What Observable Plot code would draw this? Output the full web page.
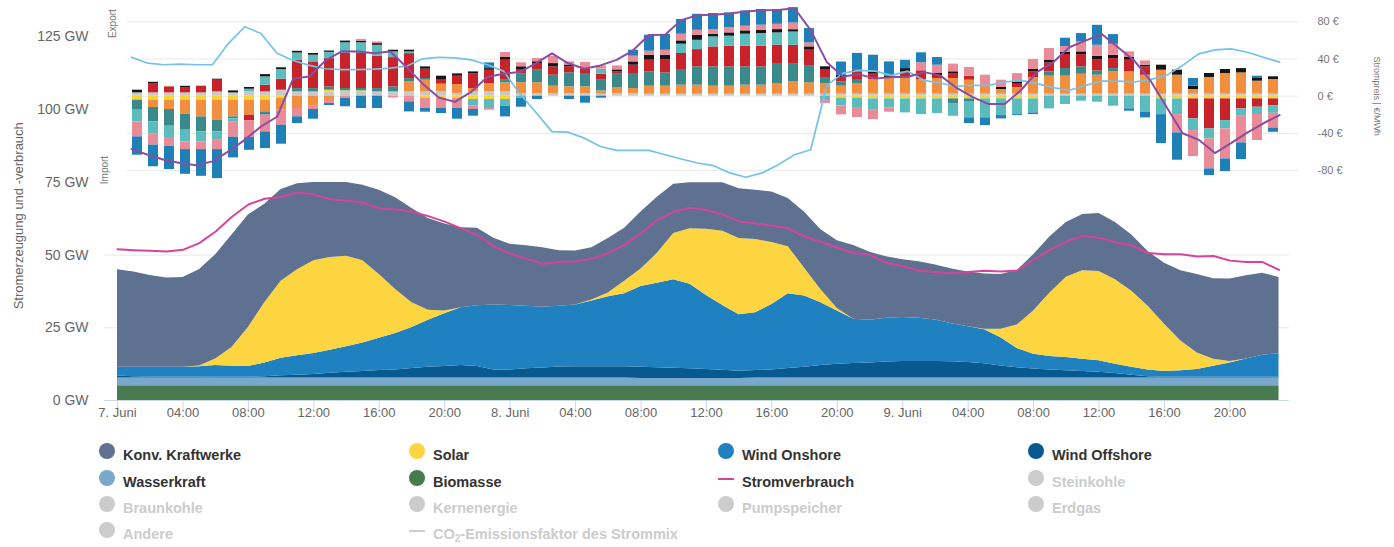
<!DOCTYPE html>
<html><head><meta charset="utf-8">
<script src="https://cdn.jsdelivr.net/npm/d3@7"></script>
<script src="https://cdn.jsdelivr.net/npm/@observablehq/plot@0.6"></script>
<style>
body{margin:0;background:#fff;font-family:"Liberation Sans",Arial,sans-serif;}
#wrap{position:relative;width:1394px;height:547px;overflow:hidden;background:#fff}
#wrap svg{position:absolute;left:0;top:0}
.item{position:absolute;font-weight:bold;font-size:14.5px;line-height:16px;color:#333;white-space:nowrap}
.item.off{color:#cccccc}
.dot{position:absolute;width:16px;height:16px;border-radius:50%}
.mk{position:absolute;width:16px;height:2px}
sub{font-size:10px;vertical-align:-3px;line-height:0}
</style></head>
<body><div id="wrap"></div>
<script>
// ---------- DATA ----------
const hours = d3.range(72);
const tickHours = [0,4,8,12,16,20,24,28,32,36,40,44,48,52,56,60,64,68];
const tickLabels = ["7. Juni","04:00","08:00","12:00","16:00","20:00","8. Juni","04:00","08:00","12:00","16:00","20:00","9. Juni","04:00","08:00","12:00","16:00","20:00"];

// Erzeugung (GW), stacked bottom -> top
const biomasse = [5.1,5.1,5.1,5.1,5.1,5.1,5.1,5.1,5.1,5.1,5.1,5.1,5.1,5.1,5.1,5.1,5.1,5.1,5.1,5.1,5.1,5.1,5.1,5.1,
 5.1,5.1,5.1,5.1,5.1,5.1,5.1,5.1,5.1,5.1,5.1,5.1,5.1,5.1,5.1,5.1,5.1,5.1,5.1,5.1,5.1,5.1,5.1,5.1,
 5.1,5.1,5.1,5.1,5.1,5.1,5.1,5.1,5.1,5.1,5.1,5.1,5.1,5.1,5.1,5.1,5.1,5.1,5.1,5.1,5.1,5.1,5.1,5.1];
const wasserkraft = [2.6,2.6,2.6,2.6,2.6,2.6,2.6,2.6,2.6,2.6,2.6,2.6,2.6,2.6,2.6,2.6,2.6,2.6,2.6,2.6,2.6,2.6,2.6,2.6,
 2.6,2.6,2.6,2.6,2.6,2.6,2.6,2.6,2.5,2.5,2.5,2.5,2.5,2.5,2.5,2.6,2.6,2.6,2.6,2.6,2.6,2.6,2.6,2.6,
 2.6,2.6,2.6,2.6,2.6,2.6,2.6,2.6,2.6,2.6,2.6,2.6,2.6,2.6,2.6,2.6,2.6,2.6,2.6,2.6,2.6,2.6,2.6,2.6];
const windOffshore = [0.7,0.5,0.4,0.4,0.4,0.4,0.3,0.3,0.3,0.5,0.8,1.0,1.2,1.7,2.0,2.3,2.6,2.8,3.3,3.7,4.0,4.3,4.0,2.8,
 2.8,3.2,3.5,3.8,3.9,3.9,3.9,3.9,3.8,3.7,3.5,3.3,3.1,2.8,2.5,2.6,2.8,3.3,3.7,4.3,4.8,5.0,5.2,5.5,
 5.7,5.7,5.7,5.6,5.4,4.9,4.2,3.6,3.1,2.8,2.5,2.3,2.0,1.6,1.0,0.5,0.3,0.3,0.3,0.3,0.3,0.3,0.3,0.3];
const windOnshore = [3.0,3.2,3.3,3.3,3.3,3.5,4.0,3.8,3.7,4.7,6.0,6.7,7.3,7.9,8.8,9.8,11.1,12.5,14.1,16.2,18.1,19.9,20.9,22.3,
 22.2,21.5,20.9,20.9,21.2,22.6,24.1,25.1,27.8,29.0,30.4,29.1,25.4,22.3,19.4,19.9,22.5,25.7,24.5,21.6,18.3,15.2,14.7,15.1,
 15.1,14.9,14.3,13.1,12.3,11.7,9.7,6.6,5.1,4.6,4.6,4.2,4.0,3.2,2.7,2.3,2.0,2.2,2.7,3.8,4.9,6.3,7.6,8.1];
const solar = [0,0,0,0,0,0.3,2.3,6.4,13.4,20.7,26.5,29.6,31.9,31.9,31.1,28.3,21.9,15.2,8.5,3.4,1.0,0,0,0,
 0,0,0,0,0,0.4,1.3,4.3,6.0,10.3,15.9,19.1,22.8,25.5,26.2,25.2,21.3,16.2,9.6,4.5,0.8,0,0,0,
 0,0,0,0,0,0.2,2.9,8.1,14.9,21.9,27.6,30.4,30.7,29.0,26.2,21.9,16.2,10.3,5.6,2.4,0.5,0,0,0];
const konv = [33.6,32.8,31.6,30.7,30.9,33.1,35.8,38.7,38.7,33.9,31.6,29.5,26.9,25.8,25.4,25.9,29.0,31.5,32.4,31.6,29.9,27.5,26.6,23.0,
 21.0,20.8,20.4,19.1,18.6,17.9,18.7,18.2,19.6,19.3,17.0,15.8,16.0,16.7,17.1,16.9,17.4,16.6,19.2,20.6,23.3,25.4,23.4,21.1,
 19.9,19.4,18.9,18.8,18.8,19.0,18.8,18.7,19.3,19.3,18.8,19.4,19.9,19.7,19.3,18.8,21.0,24.1,27.0,27.7,28.4,28.6,28.2,26.2];
const stromverbrauch = [52.0,51.7,51.5,51.2,51.8,54.1,58.1,63.2,67.4,69.4,70.0,71.5,70.8,69.2,68.7,68.0,66.0,65.7,64.9,63.4,61.5,59.2,56.9,53.0,
 50.5,48.7,47.0,47.6,47.8,48.7,50.7,53.5,57.5,62.1,64.9,66.3,65.5,64.0,61.5,60.9,60.1,59.2,56.4,54.6,52.6,50.7,50.1,47.3,
 46.2,44.6,44.2,43.8,44.2,44.6,44.4,44.7,48.4,51.8,54.6,56.6,56.0,54.4,53.3,50.7,50.3,50.3,49.5,49.7,48.1,47.6,47.6,44.9];

const genNames  = ["Biomasse","Wasserkraft","Wind Offshore","Wind Onshore","Solar","Konv. Kraftwerke"];
const genColors = ["#477a4e","#7aa7cc","#07598f","#2081c1","#fdd540","#5f7190"];

// Stromhandel (GW, + Export / - Import), stacked from zero outwards
const tradeNames  = ["grau","gelb","orange","dunkeltürkis","rot","türkis","schwarz","rosa","blau"];
const tradeColors = ["#c9c9c9","#f6d432","#f28f3f","#3a8a8c","#c8232a","#5bbcbd","#151515","#ea8b99","#1f80b8"];
const tGrau = [.33,.33,.33,.33,.33,.43,.33,.43,.43,.6,.43,.43,.43,.37,.37,.43,.43,.43,.43,.43,.27,.43,.43,.43,
 .27,.27,.27,.27,.27,.2,.27,.27,.2,.2,.2,.2,.2,.2,.2,.2,.2,.2,.2,.2,.2,.2,.2,.2,
 .2,.2,.2,.2,.2,.2,.2,.2,.2,.2,.2,.2,.2,.2,.2,.2,.2,.2,.2,.2,.2,.2,.2,.2];
const tGelb = [-.4,-.4,-.4,-.4,-.4,-.4,-.4,-.4,-.4,-.23,0,0,.17,.17,.17,0,0,0,-.23,-.23,-.23,-.33,-.33,-.33,
 0,0,0,0,0,0,0,0,0,0,0,0,0,0,0,0,0,0,0,0,-.2,-.2,-.27,-.27,
 -.27,-.27,-.27,-.27,-.27,-.27,-.27,-.27,-.27,0,0,0,0,0,0,0,-.27,-.27,-.27,-.27,-.27,-.27,-.27,-.27];
const tOrange = [0,-.73,-.93,-1.4,-1.67,-2.0,-1.67,-1.5,-1.17,-1.17,-1.23,-1.0,-.33,0,0,0,0,1.0,1.17,.77,.9,.33,.83,.9,
 1.07,1.07,.73,.67,.67,.33,.6,.5,.8,.8,.9,.9,.8,.8,.9,.9,1.07,1.23,1.13,1.07,.8,1.07,1.47,1.57,
 1.73,1.47,1.57,1.57,1.4,.8,.47,.67,1.67,1.8,1.8,2.0,1.9,2.23,2.23,1.9,2.4,1.9,.47,1.67,2.07,2.13,1.3,1.47];
const tDunkeltuerkis = [-1.0,-1.43,-1.67,-1.6,-1.5,-1.17,-.2,0,-.33,0,.33,.33,.33,.23,.23,.33,.5,.33,.17,0,0,0,0,.27,
 .9,1.27,1.1,1.4,1.33,1.07,1.33,1.5,1.43,1.33,1.57,1.83,1.93,1.93,1.83,1.83,2.0,1.83,1.67,.6,.43,.4,0,0,
 0,0,0,-.47,-.33,0,0,0,0,.43,.77,.73,.43,.33,0,0,0,0,0,0,0,0,0,0];
const tRot = [0,.93,.6,.53,.67,1.17,0,-.57,.67,1.1,2.83,2.67,2.83,3.5,3.5,3.23,2.93,2.5,.93,.4,.83,1.5,1.33,2.0,
 .43,.6,.83,.6,.43,.6,.23,.83,1.17,1.33,1.6,1.73,2.0,2.07,2.07,2.07,1.83,1.83,1.6,.8,.43,.77,.53,0,
 .5,.87,.23,.5,.4,0,0,.33,.57,.9,1.4,1.23,1.13,1.0,1.17,.83,0,0,-2.0,-3.0,-2.17,-1.0,-.83,-.67];
const tTuerkis = [-1.17,-1.23,-1.13,-1.17,-1.0,-.77,-.33,.27,.83,.97,.73,.67,.63,1.07,1.07,1.1,.57,.17,0,0,0,-.67,-.9,-.67,
 -.2,0,0,0,0,.5,0,0,0,0,.93,.93,1.0,1.0,1.2,1.27,1.23,1.33,0,-.33,-.77,-.93,-1.07,-.9,
 -1.4,-1.57,-1.47,-1.27,-1.57,-1.9,-1.67,-1.57,-1.4,-1.27,-.83,-.5,-.6,-1.0,-1.27,-1.6,-1.57,-1.57,-1.17,-1.0,-.83,-.73,-.73,-.77];
const tSchwarz = [.27,.13,0,.13,0,.1,.2,.17,.23,.17,.17,.17,.13,.17,.17,.17,.17,.17,.23,.4,.23,.17,.17,.27,
 .27,.23,.33,.17,0,0,.2,.33,.5,.43,.33,.5,.27,.33,.33,.33,.33,.23,.33,.27,.23,.17,.23,.23,
 .33,0,.27,.17,0,0,.2,.23,.23,.27,.23,.27,.33,.33,.27,.17,.5,.5,.33,.4,.4,.43,.27,.27];
const tRosa = [-1.5,-1.1,-.87,-.77,-.77,-1.0,-1.5,-1.67,-1.67,-1.5,-.83,-.33,-.4,-.23,.17,.17,-.17,-.57,-1.0,-1.0,-1.0,-.33,-.17,.5,
 .4,.33,.73,.33,.67,.33,.4,.57,.4,.5,.67,.5,.47,.53,.47,.5,.53,.67,.4,-.4,-.9,-1.0,-1.0,-.43,
 0,.8,.83,.77,.87,1.1,.73,.83,1.0,1.17,.57,1.0,1.1,1.1,.57,.43,0,-1.83,-2.6,-3.0,-3.0,-2.67,-2.6,-1.47];
const tBlau = [-1.83,-2.17,-2.33,-2.47,-2.67,-2.9,-2.07,-1.27,-1.67,-1.9,-.67,-.97,-.2,-.83,-1.23,-1.23,0,-1.0,-.37,-.5,-1.07,-.67,.57,-1.07,
 -.9,-.33,0,-.33,-.7,-.2,0,.6,1.6,1.6,1.47,1.6,1.6,1.47,1.53,1.57,1.47,1.53,1.43,0,1.33,1.67,1.67,1.43,
 .83,1.0,.77,0,-.57,-.77,-.33,-.1,-.17,0,.83,.83,2.0,.97,-.23,-.57,-2.9,-2.73,.77,-.67,-1.27,-1.67,.23,-.43];

// Preise (€/MWh)
const strompreis = [-56.9,-62.9,-68.3,-71.8,-74.3,-70.1,-59.4,-46.9,-32.7,-22.1,18.9,21.3,38.4,48.3,48.0,46.2,48.0,31.3,13.5,-1.4,-6.1,4.6,20.6,24.2,
 25.9,35.4,46.1,35.4,29.5,33.1,39.1,49.1,65.8,66.1,81.8,87.1,87.5,88.9,91.0,92.5,92.8,94.6,71.1,36.6,21.3,23.5,18.9,20.6,
 20.6,25.9,22.4,9.3,-0.7,-8.5,-8.5,6.4,25.9,36.6,52.6,59.7,66.8,52.6,38.4,17.1,-11.4,-39.8,-46.9,-61.1,-50.5,-39.1,-29.1,-20.3];
const hellblaueLinie = [41.9,35.5,33.8,34.5,33.8,33.8,56.9,74.7,67.5,46.2,38.4,33.1,29.5,28.5,28.5,29.1,30.2,32.3,40.2,41.9,41.3,39.1,33.8,27.0,
 3.2,-17.3,-38.1,-38.7,-45.1,-54.1,-58.3,-58.3,-58.3,-62.9,-67.5,-71.8,-74.7,-82.5,-87.1,-82.5,-73.6,-62.9,-57.6,11.7,24.8,27.7,26.9,22.4,
 26.9,17.1,14.2,10.7,11.7,11.7,15.3,17.1,13.5,9.3,6.4,11.7,16.3,16.3,15.3,17.8,22.4,33.1,45.5,49.8,50.9,47.3,41.9,36.6];
const priceTicks = [-80,-40,0,40,80];

// Legend
const legendItems = [
  ["Konv. Kraftwerke","#5f7190","dot",true],["Solar","#fdd540","dot",true],["Wind Onshore","#2081c1","dot",true],["Wind Offshore","#07598f","dot",true],
  ["Wasserkraft","#7aa7cc","dot",true],["Biomasse","#477a4e","dot",true],["Stromverbrauch","#d6449a","line",true],["Steinkohle","#cccccc","dot",false],
  ["Braunkohle","#cccccc","dot",false],["Kernenergie","#cccccc","dot",false],["Pumpspeicher","#cccccc","dot",false],["Erdgas","#cccccc","dot",false],
  ["Andere","#cccccc","dot",false],["CO<sub>2</sub>-Emissionsfaktor des Strommix","#cccccc","line",false]
];

// ---------- BUILD ----------
const font = "Liberation Sans, Arial, sans-serif";
const wrap = document.getElementById("wrap");
const genSeries = [biomasse, wasserkraft, windOffshore, windOnshore, solar, konv];
const genData = genSeries.flatMap((arr, k) => arr.map((v, h) => ({hour: h, typ: genNames[k], gw: v})));

const main = Plot.plot({
  width: 1394, height: 430,
  marginLeft: 104, marginRight: 105, marginTop: 36.5, marginBottom: 30,
  x: {domain: [-0.795, 71.64]},
  y: {domain: [0, 125]},
  color: {domain: genNames, range: genColors},
  style: {background: "transparent", fontFamily: font, color: "#666", overflow: "visible"},
  marks: [
    Plot.gridY([25, 50], {stroke: "#e6e6e6", strokeOpacity: 1}),
    Plot.areaY(genData, {x: "hour", y: "gw", fill: "typ", order: genNames}),
    Plot.lineY(stromverbrauch, {x: (d, i) => i, y: d => d, stroke: "#d6449a", strokeWidth: 2}),
    Plot.ruleY([0], {stroke: "#ccd6eb"}),
    Plot.axisX({ticks: tickHours, tickFormat: d => tickLabels[tickHours.indexOf(d)], tickSize: 10, tickPadding: -3,
      stroke: "#ccd6eb", strokeOpacity: 1, fill: "#666", fontSize: 13, label: null}),
    Plot.axisY({ticks: [0, 25, 50, 75, 100, 125], tickFormat: d => d + " GW", tickSize: 0, tickPadding: 16,
      fill: "#666", fontSize: 14, label: null}),
    Plot.text(["Stromerzeugung und -verbrauch"], {frameAnchor: "left", rotate: -90, textAnchor: "middle", dx: -86, dy: -3, fontSize: 13, fill: "#666"})
  ]
});
wrap.appendChild(main);

function pricePlot(marks) {
  return Plot.plot({
    width: 1394, height: 192,
    marginLeft: 127, marginRight: 96, marginTop: 2.7, marginBottom: 3.3,
    x: {domain: [-0.25, 72.17], axis: null},
    y: {domain: [-100, 100], axis: null},
    style: {background: "transparent", fontFamily: font, color: "#777", overflow: "visible"},
    marks
  });
}
wrap.appendChild(pricePlot([
  Plot.gridY(priceTicks, {stroke: "#e8e8e8", strokeOpacity: 1}),
  Plot.axisY({anchor: "right", ticks: priceTicks, tickFormat: d => d + " €", tickSize: 0, tickPadding: 19,
    fill: "#777", fontSize: 11, label: null}),
  Plot.text(["Strompreis | €/MWh"], {frameAnchor: "right", rotate: 90, textAnchor: "middle", dx: 78, fontSize: 9, fill: "#777"})
]));

const tradeSeries = [tGrau, tGelb, tOrange, tDunkeltuerkis, tRot, tTuerkis, tSchwarz, tRosa, tBlau];
const tradeData = tradeSeries.flatMap((arr, k) => arr.map((v, h) => ({hour: h, land: tradeNames[k], gw: v})));
const bars = Plot.plot({
  width: 1394, height: 192,
  marginLeft: 122.9, marginRight: 106.6, marginTop: 0.7, marginBottom: 1.3,
  x: {type: "band", domain: hours, paddingInner: 0.38, paddingOuter: 0.19, axis: null},
  y: {domain: [-9.5, 9.5], axis: null},
  color: {domain: tradeNames, range: tradeColors},
  style: {background: "transparent", fontFamily: font, overflow: "visible"},
  marks: [
    Plot.barY(tradeData, {x: "hour", y: "gw", fill: "land", order: tradeNames}),
    Plot.text(["Export"], {frameAnchor: "top-left", rotate: -90, textAnchor: "end", dx: -15, dy: 8, fontSize: 10, fill: "#777"}),
    Plot.text(["Import"], {frameAnchor: "bottom-left", rotate: -90, textAnchor: "start", dx: -15, dy: -7, fontSize: 10, fill: "#777"})
  ]
});
wrap.appendChild(bars);

wrap.appendChild(pricePlot([
  Plot.lineY(hellblaueLinie, {x: (d, i) => i, y: d => d, stroke: "#74c2ea", strokeWidth: 1.7}),
  Plot.lineY(strompreis, {x: (d, i) => i, y: d => d, stroke: "#8b4da0", strokeWidth: 2})
]));

// Legend (HTML)
const colX = [99, 409, 718, 1028];
const rowY = [455, 481.5, 508, 534];
legendItems.forEach(([name, color, kind, on], i) => {
  const cx = colX[i % 4], cy = rowY[Math.floor(i / 4)];
  const m = document.createElement("div");
  if (kind === "dot") {
    m.className = "dot";
    m.style.left = cx + "px"; m.style.top = (cy - 12) + "px"; m.style.background = color;
  } else {
    m.className = "mk";
    m.style.left = cx + "px"; m.style.top = (cy - 4) + "px"; m.style.background = color;
  }
  wrap.appendChild(m);
  const t = document.createElement("div");
  t.className = "item" + (on ? "" : " off");
  t.style.left = (cx + 24) + "px"; t.style.top = (cy - 8) + "px";
  t.innerHTML = name;
  wrap.appendChild(t);
});
</script></body></html>
